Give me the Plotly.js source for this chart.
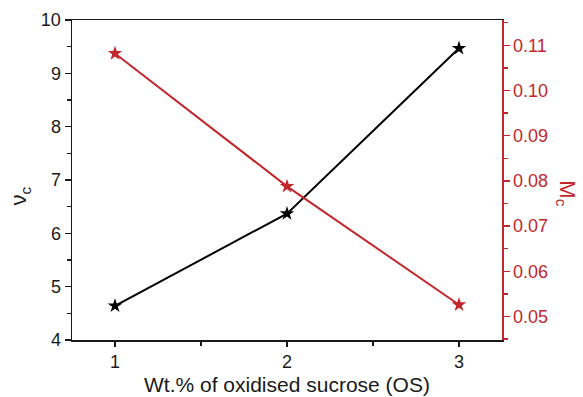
<!DOCTYPE html>
<html>
<head>
<meta charset="utf-8">
<script src="https://cdn.plot.ly/plotly-3.0.1.min.js"></script>
<style>html,body{margin:0;padding:0;background:#fff;}#chart{width:583px;height:397px;}</style>
</head>
<body>
<div id="chart"></div>
<script>
var wtPercent = [1, 2, 3];
var nuC = [4.64, 6.37, 9.47];
var mC = [0.1082, 0.0788, 0.0526];
var xTickVals = [1, 2, 3];
var xTitle = "Wt.% of oxidised sucrose (OS)";
var leftTitle = "ν<sub>c</sub>";
var rightTitle = "M<sub>c</sub>";

var RED = "#c1272d";
var font = "Liberation Sans, Arial, sans-serif";

var traces = [
  {
    x: wtPercent, y: nuC, type: "scatter", mode: "lines+markers",
    line: {color: "#000000", width: 2},
    marker: {symbol: "star", size: 11, color: "#000000"},
    yaxis: "y", showlegend: false, cliponaxis: false
  },
  {
    x: wtPercent, y: mC, type: "scatter", mode: "lines+markers",
    line: {color: RED, width: 2},
    marker: {symbol: "star", size: 11, color: RED},
    yaxis: "y2", showlegend: false, cliponaxis: false
  }
];

var layout = {
  width: 583, height: 397,
  margin: {l: 72, r: 81, t: 20, b: 57},
  paper_bgcolor: "#ffffff", plot_bgcolor: "#ffffff",
  font: {family: font, size: 18, color: "#1a1a1a"},
  xaxis: {
    range: [0.75, 3.25], tickvals: xTickVals, ticks: "outside", ticklen: 5, tickwidth: 1.5,
    tickcolor: "#1a1a1a", showline: true, linecolor: "#1a1a1a", linewidth: 1.5, mirror: true,
    showgrid: false, zeroline: false,
    minor: {dtick: 0.5, tick0: 0, ticks: "outside", ticklen: 4, tickcolor: "#1a1a1a", tickwidth: 1.5},
    tickfont: {size: 18, color: "#1a1a1a"}
  },
  yaxis: {
    range: [4, 10], dtick: 1, ticks: "outside", ticklen: 6, tickwidth: 1.5, tickcolor: "#1a1a1a",
    showline: true, linecolor: "#1a1a1a", linewidth: 1.5, showgrid: false, zeroline: false,
    minor: {dtick: 0.5, ticks: "outside", ticklen: 4, tickcolor: "#1a1a1a", tickwidth: 1.5},
    tickfont: {size: 18, color: "#1a1a1a"}
  },
  yaxis2: {
    overlaying: "y", side: "right", range: [0.0448, 0.1156], dtick: 0.01, tick0: 0,
    tickformat: ".2f", ticks: "outside", ticklen: 6, tickwidth: 1.5, tickcolor: RED,
    showline: true, linecolor: RED, linewidth: 1.5, showgrid: false, zeroline: false,
    minor: {dtick: 0.005, ticks: "outside", ticklen: 4, tickcolor: RED, tickwidth: 1.5},
    tickfont: {size: 18, color: RED}
  },
  annotations: [
    {text: xTitle, xref: "paper", yref: "paper", x: 0.5, y: -0.14, xanchor: "center", yanchor: "middle",
     showarrow: false, font: {size: 21, color: "#1a1a1a"}},
    {text: leftTitle, xref: "paper", yref: "paper", x: -0.12, y: 0.45, xanchor: "center", yanchor: "middle",
     showarrow: false, textangle: -90, font: {size: 22, color: "#1a1a1a"}},
    {text: rightTitle, xref: "paper", yref: "paper", x: 1.15, y: 0.46, xanchor: "center", yanchor: "middle",
     showarrow: false, textangle: 90, font: {size: 22, color: RED}}
  ]
};

Plotly.newPlot("chart", traces, layout, {displayModeBar: false, staticPlot: true});
</script>
</body>
</html>
